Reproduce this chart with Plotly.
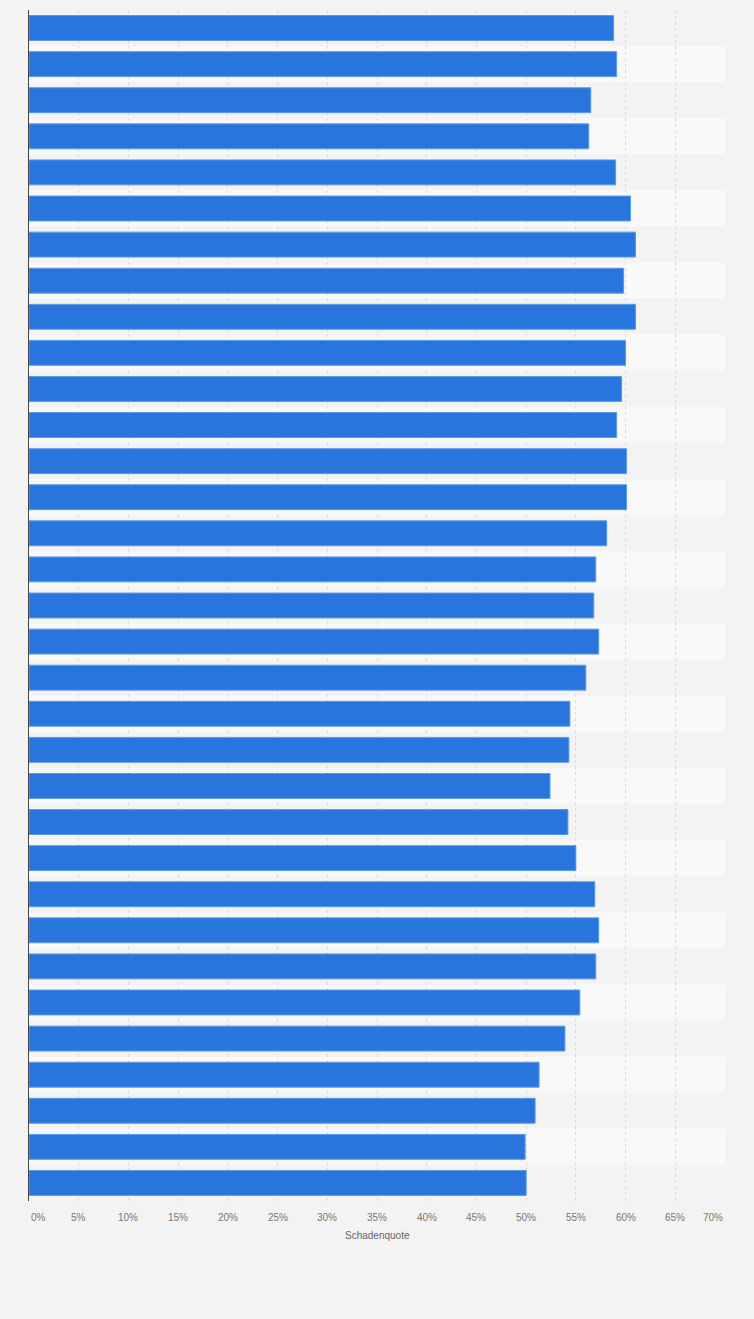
import plotly.graph_objects as go

# one bar per row, top to bottom (row labels are not shown in the chart)
rows = [str(i) for i in range(1, 34)]
schadenquote = [
    58.8, 59.1, 56.5, 56.3, 59.0, 60.5, 61.0, 59.8, 61.0, 60.0, 59.6,
    59.1, 60.1, 60.1, 58.1, 57.0, 56.8, 57.3, 56.0, 54.4, 54.3, 52.4,
    54.2, 55.0, 56.9, 57.3, 57.0, 55.4, 53.9, 51.3, 50.9, 49.9, 50.0,
]
tick_vals = [0, 5, 10, 15, 20, 25, 30, 35, 40, 45, 50, 55, 60, 65, 70]
tick_text = [f"{v}%" for v in tick_vals]

paper_bg = "#f3f3f3"
stripe_bg = "#f9f9f9"
bar_color = "#2876dd"

fig = go.Figure()
fig.add_trace(go.Bar(
    x=schadenquote,
    y=rows,
    orientation="h",
    marker=dict(color=bar_color, line=dict(color="#5a9ae8", width=1)),
    hovertemplate="%{x:.1f}%<extra></extra>",
))

# alternating row background
for i in range(len(rows)):
    if i % 2 == 1:
        fig.add_shape(
            type="rect", xref="paper", yref="y",
            x0=0, x1=1, y0=i - 0.5, y1=i + 0.5,
            fillcolor=stripe_bg, line_width=0, layer="below",
        )

# tick labels as annotations so the outer ones stay inside the plot width
for v, t in zip(tick_vals, tick_text):
    anchor = "center"
    if v == tick_vals[0]:
        anchor = "left"
    elif v == tick_vals[-1]:
        anchor = "right"
    fig.add_annotation(
        x=v, y=0, xref="x", yref="paper", yshift=-16,
        text=t, showarrow=False, xanchor=anchor, yanchor="middle",
        font=dict(family="Liberation Sans, Arial", size=10, color="#777777"),
    )

fig.add_annotation(
    x=0.5, y=0, xref="paper", yref="paper", yshift=-34,
    text="Schadenquote", showarrow=False, xanchor="center", yanchor="middle",
    font=dict(family="Liberation Sans, Arial", size=10, color="#666666"),
)

fig.update_layout(
    width=754,
    height=1319,
    margin=dict(l=29, r=29, t=10, b=118),
    paper_bgcolor=paper_bg,
    plot_bgcolor=paper_bg,
    bargap=0.31,
    showlegend=False,
    font=dict(family="Liberation Sans, Arial", size=10, color="#666666"),
)
fig.update_xaxes(
    range=[0, 70],
    tickvals=tick_vals,
    showticklabels=False,
    showgrid=True,
    gridcolor="#dadada",
    griddash="dot",
    gridwidth=1,
    zeroline=False,
    showline=False,
    fixedrange=True,
)
fig.update_yaxes(
    categoryorder="array",
    categoryarray=rows,
    autorange="reversed",
    showticklabels=False,
    showgrid=False,
    zeroline=False,
    showline=True,
    linecolor="#444444",
    linewidth=1,
    fixedrange=True,
)

# drop the default page margin so the figure sits flush in the window
fig.write_html(
    "out.html",
    config={"displayModeBar": False},
    post_script="document.body.style.margin='0';document.body.style.background='#f3f3f3';",
)
